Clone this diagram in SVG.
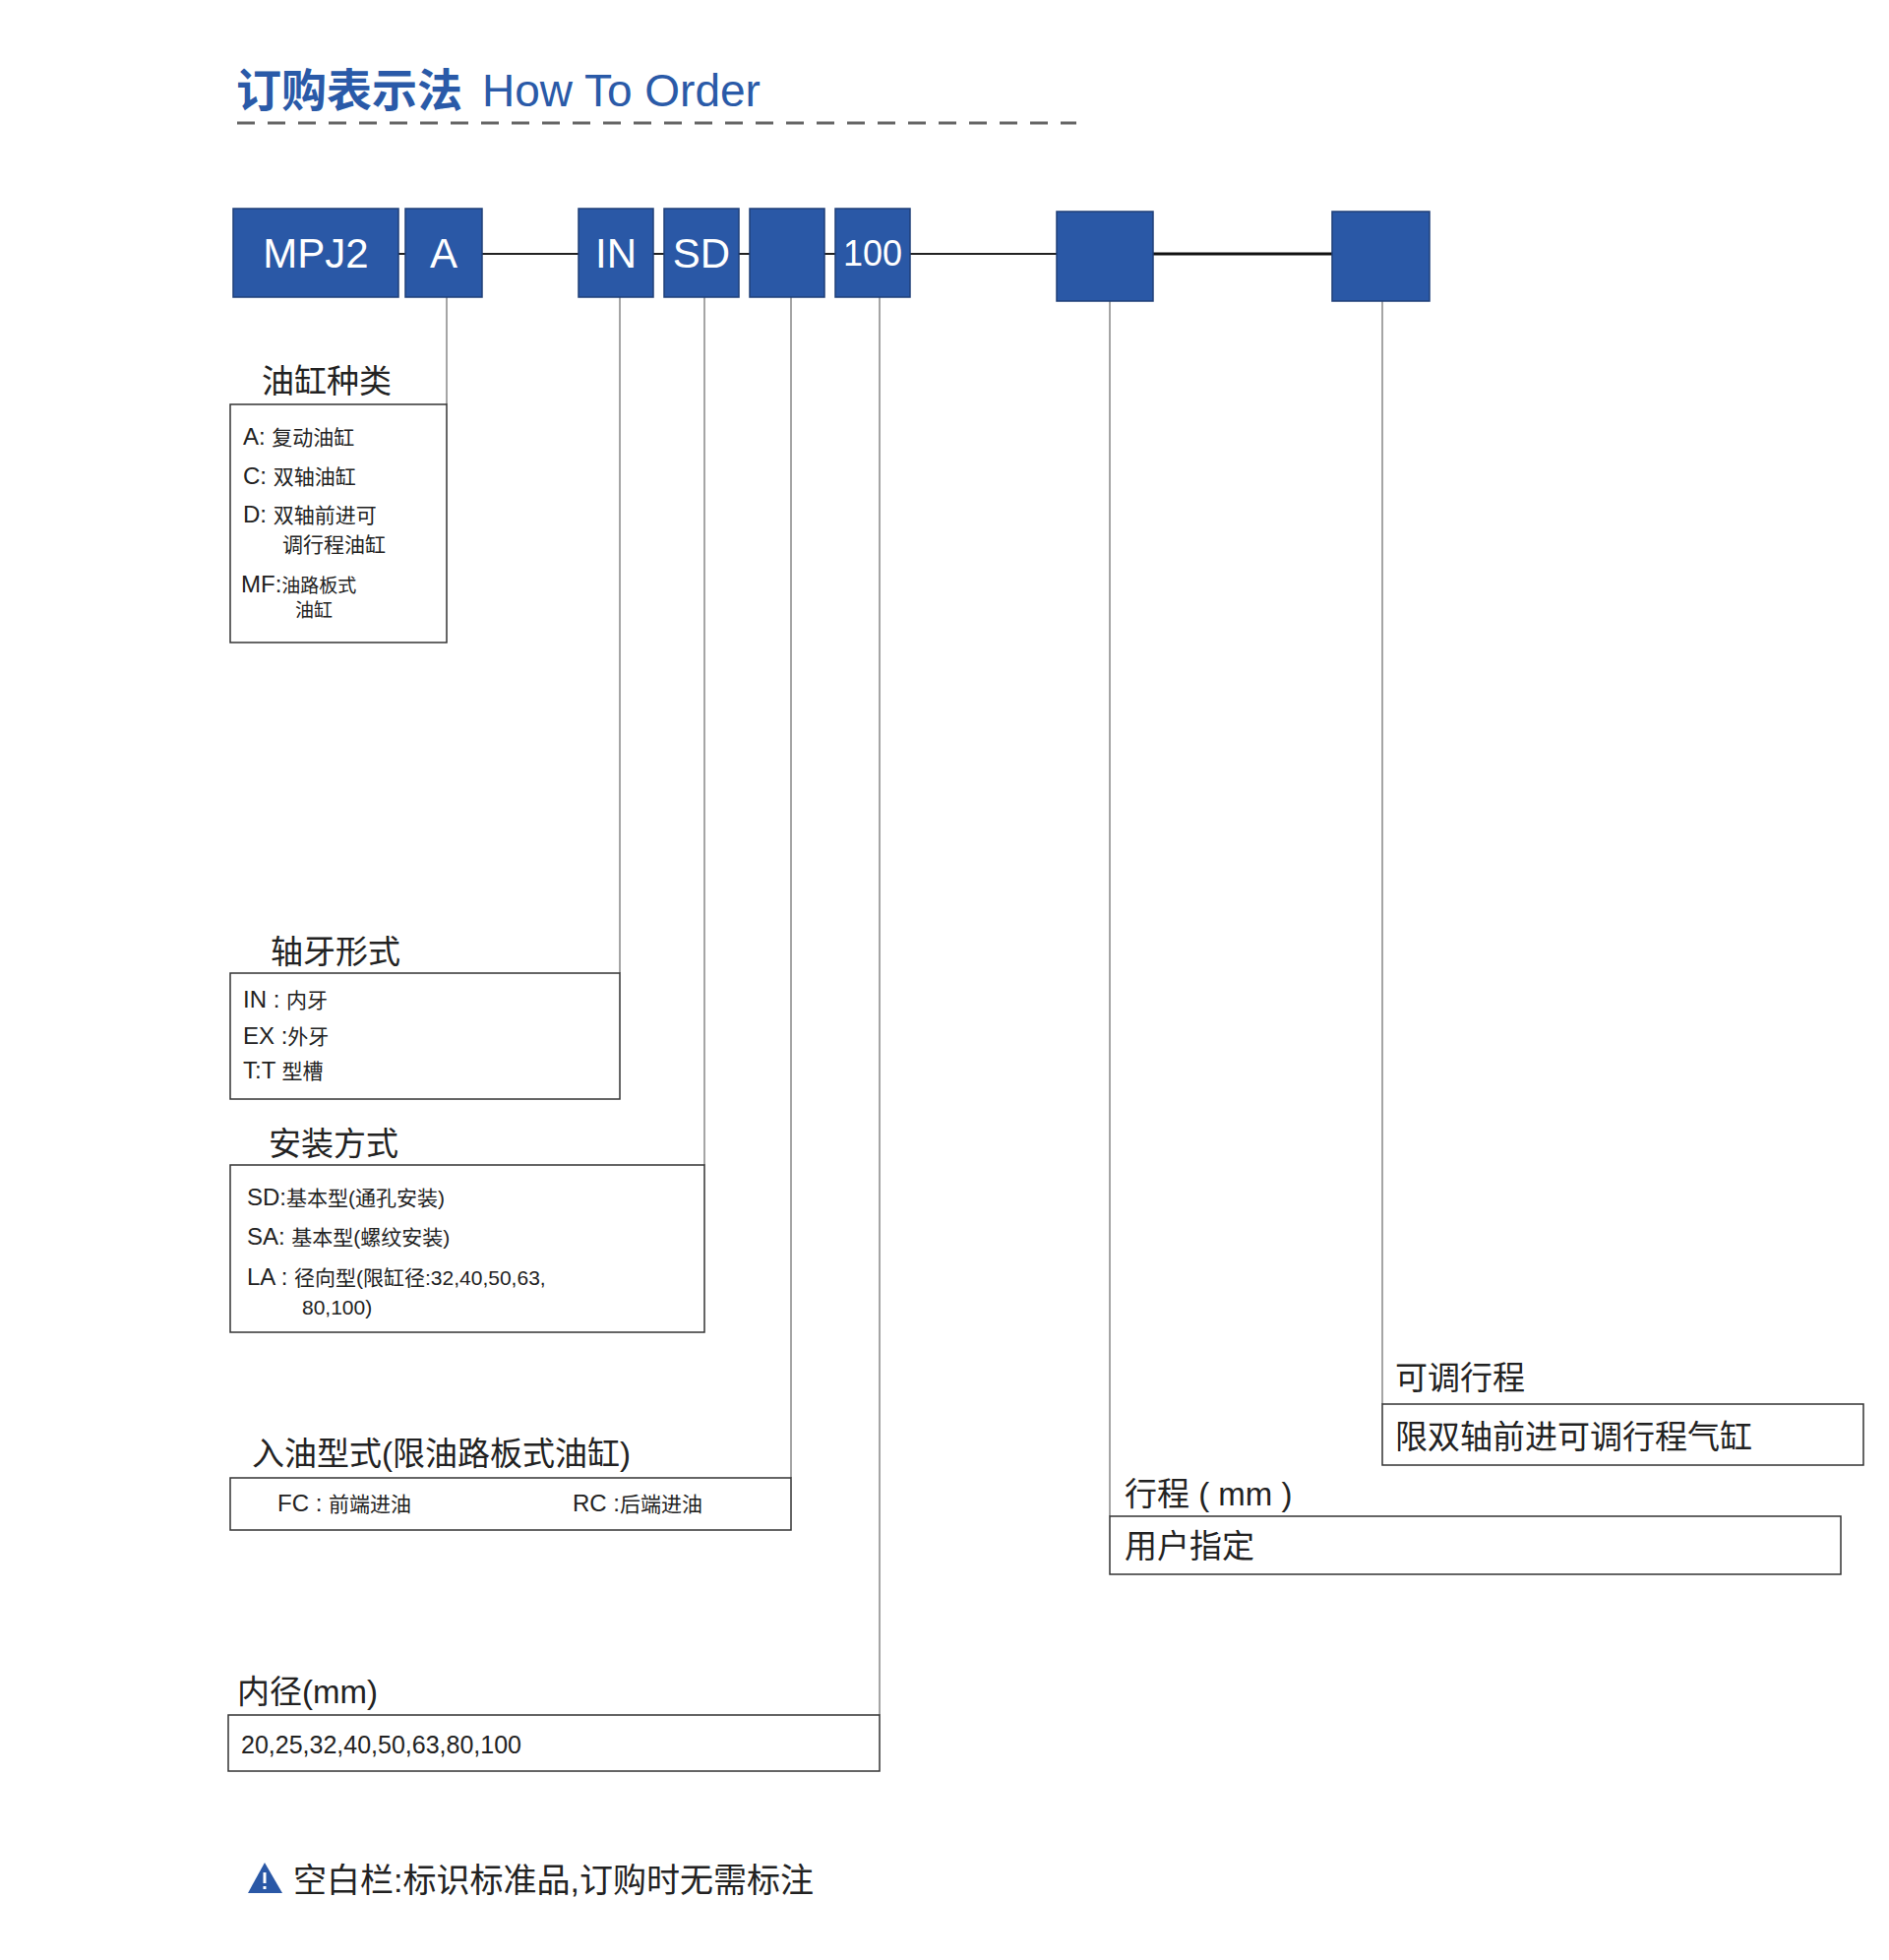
<svg xmlns="http://www.w3.org/2000/svg" width="1920" height="1992" viewBox="0 0 1920 1992">
<style>
text{font-family:"Liberation Sans","Noto Sans CJK SC",sans-serif;fill:#222}
.bx{fill:#2a58a6;stroke:#1f3f78;stroke-width:1.5}
.bt{fill:#fff;font-size:42px;text-anchor:middle}
.lab{fill:#fff;stroke:#333;stroke-width:1.5}
.ttl{font-size:33px}
.it{font-size:24px}
.cj{font-size:21px}
.ln{stroke:#888;stroke-width:1.5;fill:none}
</style>
<rect width="1920" height="1992" fill="#fff"/>
<g id="title">
<text x="240" y="108" style="font-size:46px;font-weight:bold;fill:#2a5aa8">订购表示法</text>
<text x="490" y="108" style="font-size:46px;fill:#2a5aa8">How To Order</text>
<line x1="241" y1="125" x2="1094" y2="125" stroke="#666" stroke-width="3" stroke-dasharray="18,13"/>
</g>
<g id="connectors">
<line x1="405" y1="258" x2="1354" y2="258" stroke="#222" stroke-width="2"/>
<line x1="1172" y1="258" x2="1354" y2="258" stroke="#111" stroke-width="3"/>
<path class="ln" d="M454 302V411M630 302V989M716 302V1184M804 302V1502M894 302V1743M1128 306V1541M1405 306V1427"/>
</g>
<g id="n-mpj2"><rect class="bx" x="237" y="212" width="168" height="90"/><text class="bt" x="321" y="272">MPJ2</text></g>
<g id="n-a"><rect class="bx" x="412" y="212" width="78" height="90"/><text class="bt" x="451" y="272">A</text></g>
<g id="n-in"><rect class="bx" x="588" y="212" width="76" height="90"/><text class="bt" x="626" y="272">IN</text></g>
<g id="n-sd"><rect class="bx" x="675" y="212" width="76" height="90"/><text class="bt" x="713" y="272">SD</text></g>
<g id="n-blank"><rect class="bx" x="762" y="212" width="76" height="90"/></g>
<g id="n-100"><rect class="bx" x="849" y="212" width="76" height="90"/><text class="bt" x="887" y="270" style="font-size:36px">100</text></g>
<g id="n-stroke"><rect class="bx" x="1074" y="215" width="98" height="91"/></g>
<g id="n-adj"><rect class="bx" x="1354" y="215" width="99" height="91"/></g>
<g id="b-type">
<text class="ttl" x="266" y="399">油缸种类</text>
<rect class="lab" x="234" y="411" width="220" height="242"/>
<text x="247" y="452"><tspan class="it">A: </tspan><tspan class="cj">复动油缸</tspan></text>
<text x="247" y="492"><tspan class="it">C: </tspan><tspan class="cj">双轴油缸</tspan></text>
<text x="247" y="531"><tspan class="it">D: </tspan><tspan class="cj">双轴前进可</tspan></text>
<text class="cj" x="287" y="561">调行程油缸</text>
<text x="245" y="602"><tspan class="it">MF:</tspan><tspan class="cj" style="font-size:19px">油路板式</tspan></text>
<text class="cj" x="300" y="627" style="font-size:19px">油缸</text>
</g>
<g id="b-thread">
<text class="ttl" x="275" y="979">轴牙形式</text>
<rect class="lab" x="234" y="989" width="396" height="128"/>
<text x="247" y="1024"><tspan class="it">IN : </tspan><tspan class="cj">内牙</tspan></text>
<text x="247" y="1061"><tspan class="it">EX :</tspan><tspan class="cj">外牙</tspan></text>
<text x="247" y="1096"><tspan class="it">T:T </tspan><tspan class="cj">型槽</tspan></text>
</g>
<g id="b-mount">
<text class="ttl" x="273" y="1174">安装方式</text>
<rect class="lab" x="234" y="1184" width="482" height="170"/>
<text x="251" y="1225"><tspan class="it">SD:</tspan><tspan class="cj">基本型(通孔安装)</tspan></text>
<text x="251" y="1265"><tspan class="it">SA: </tspan><tspan class="cj">基本型(螺纹安装)</tspan></text>
<text x="251" y="1306"><tspan class="it">LA : </tspan><tspan class="cj">径向型(限缸径:32,40,50,63,</tspan></text>
<text class="cj" x="307" y="1336">80,100)</text>
</g>
<g id="b-oil">
<text class="ttl" x="256" y="1489">入油型式(限油路板式油缸)</text>
<rect class="lab" x="234" y="1502" width="570" height="53"/>
<text x="282" y="1536"><tspan class="it">FC : </tspan><tspan class="cj">前端进油</tspan></text>
<text x="582" y="1536"><tspan class="it">RC :</tspan><tspan class="cj">后端进油</tspan></text>
</g>
<g id="b-bore">
<text class="ttl" x="241" y="1731">内径(mm)</text>
<rect class="lab" x="232" y="1743" width="662" height="57"/>
<text x="245" y="1782" style="font-size:25px">20,25,32,40,50,63,80,100</text>
</g>
<g id="b-stroke">
<text class="ttl" x="1143" y="1530">行程 ( mm )</text>
<rect class="lab" x="1128" y="1541" width="743" height="59"/>
<text class="ttl" x="1143" y="1583">用户指定</text>
</g>
<g id="b-adj">
<text class="ttl" x="1418" y="1412">可调行程</text>
<rect class="lab" x="1405" y="1427" width="489" height="62"/>
<text class="ttl" x="1418" y="1472">限双轴前进可调行程气缸</text>
</g>
<g id="footer">
<polygon points="269,1893 252,1924 287,1924" fill="#2a58a6"/>
<rect x="267.5" y="1903" width="3" height="11" fill="#fff"/>
<rect x="267.5" y="1917" width="3" height="3" fill="#fff"/>
<text x="298" y="1923" style="font-size:34px">空白栏:标识标准品,订购时无需标注</text>
</g>
</svg>
